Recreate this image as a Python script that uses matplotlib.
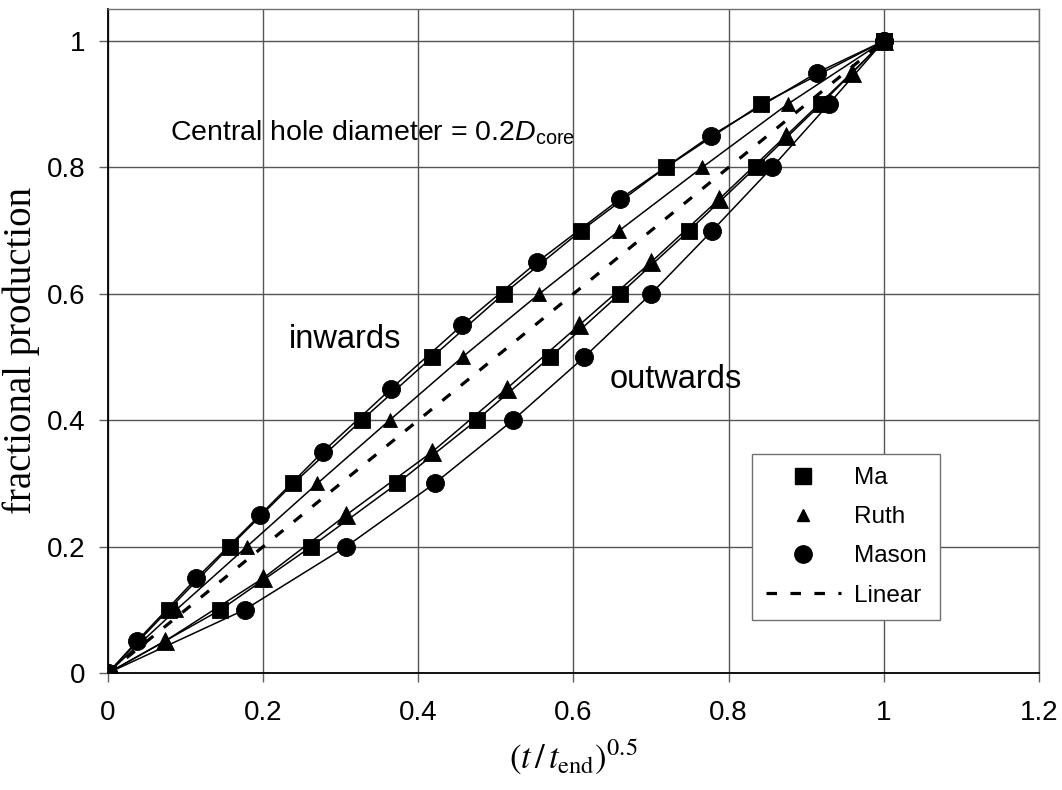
"""Fractional production vs square-root time for inward and outward cores."""

from __future__ import annotations

import matplotlib

matplotlib.use("Agg")

import matplotlib.pyplot as plt
from matplotlib.axes import Axes
from matplotlib.lines import Line2D

plt.rcParams["font.family"] = ["Liberation Sans", "DejaVu Sans"]
plt.rcParams["mathtext.fontset"] = "custom"
plt.rcParams["mathtext.rm"] = "Liberation Sans"
plt.rcParams["mathtext.it"] = "Liberation Sans:italic"

# fractional production levels at which markers sit
Y_TENTHS = [0.0, 0.1, 0.2, 0.3, 0.4, 0.5, 0.6, 0.7, 0.8, 0.9, 1.0]
Y_HALVES = [0.0, 0.05, 0.15, 0.25, 0.35, 0.45, 0.55, 0.65, 0.75, 0.85, 0.95, 1.0]

# (t/t_end)^0.5
MA_IN = [0.0, 0.078, 0.157, 0.239, 0.327, 0.418, 0.510, 0.610, 0.719, 0.842, 1.0]
MA_OUT = [0.0, 0.145, 0.262, 0.373, 0.475, 0.570, 0.660, 0.749, 0.835, 0.919, 1.0]
RUTH_IN = [0.0, 0.088, 0.179, 0.270, 0.363, 0.457, 0.556, 0.659, 0.766, 0.876, 1.0]
RUTH_OUT = [0.0, 0.073, 0.200, 0.307, 0.418, 0.514, 0.607, 0.700, 0.788, 0.874, 0.959, 1.0]
MASON_IN = [0.0, 0.037, 0.114, 0.196, 0.277, 0.365, 0.456, 0.553, 0.660, 0.777, 0.914, 1.0]
MASON_OUT = [0.0, 0.176, 0.307, 0.421, 0.522, 0.614, 0.700, 0.779, 0.856, 0.929, 1.0]
LINEAR_X = [0.0, 1.0]
LINEAR_Y = [0.0, 1.0]

X_TICKS = [0.0, 0.2, 0.4, 0.6, 0.8, 1.0, 1.2]
X_TICK_LABELS = ["0", "0.2", "0.4", "0.6", "0.8", "1", "1.2"]
Y_TICKS = [0.0, 0.2, 0.4, 0.6, 0.8, 1.0]
Y_TICK_LABELS = ["0", "0.2", "0.4", "0.6", "0.8", "1"]

LEGEND_LABELS = ["Ma", "Ruth", "Mason", "Linear"]

_LINE = {"color": "black", "linewidth": 1.1, "markeredgecolor": "black",
         "markerfacecolor": "black", "markeredgewidth": 0.6}
_SQUARE = {"marker": "s", "markersize": 11.5}
_CIRCLE = {"marker": "o", "markersize": 13}
_TRI_BIG = {"marker": "^", "markersize": 13}
_TRI_SMALL = {"marker": "^", "markersize": 9.5}


def _draw_curves(ax: Axes) -> None:
    ax.plot(LINEAR_X, LINEAR_Y, color="black", linewidth=2.3,
            dashes=(3.3, 4.2), zorder=2)
    ax.plot(MASON_IN, Y_HALVES, **_LINE, **_CIRCLE, zorder=3)
    ax.plot(MASON_OUT, Y_TENTHS, **_LINE, **_CIRCLE, zorder=3)
    ax.plot(RUTH_IN, Y_TENTHS, **_LINE, **_TRI_SMALL, zorder=4)
    ax.plot(RUTH_OUT, Y_HALVES, **_LINE, **_TRI_BIG, zorder=4)
    ax.plot(MA_IN, Y_TENTHS, **_LINE, **_SQUARE, zorder=5)
    ax.plot(MA_OUT, Y_TENTHS, **_LINE, **_SQUARE, zorder=5)


def _draw_legend(ax: Axes) -> None:
    marker_style = {"linestyle": "none", "color": "black",
                    "markerfacecolor": "black", "markeredgecolor": "black"}
    handles = [
        Line2D([], [], marker="s", markersize=11.5, **marker_style),
        Line2D([], [], marker="^", markersize=9, **marker_style),
        Line2D([], [], marker="o", markersize=12.5, **marker_style),
        Line2D([], [], color="black", linewidth=2.3, dashes=(3.3, 4.2)),
    ]
    legend = ax.legend(
        handles,
        LEGEND_LABELS,
        loc="lower left",
        bbox_to_anchor=(0.692, 0.080),
        borderaxespad=0.0,
        fontsize=17.5,
        frameon=True,
        fancybox=False,
        borderpad=0.55,
        handlelength=3.1,
        handletextpad=0.55,
        labelspacing=0.7,
    )
    frame = legend.get_frame()
    frame.set_edgecolor("#707070")
    frame.set_linewidth(1.0)
    frame.set_alpha(1.0)


def _style_axes(ax: Axes) -> None:
    ax.set_xlim(0, 1.2)
    ax.set_ylim(0, 1.0506)
    ax.set_xticks(X_TICKS, X_TICK_LABELS)
    ax.set_yticks(Y_TICKS, Y_TICK_LABELS)
    ax.tick_params(axis="both", direction="out", length=6.5, width=1.0,
                   color="#606060", labelsize=20)
    ax.tick_params(axis="x", pad=13)
    ax.tick_params(axis="y", pad=10)
    ax.grid(True, color="#555555", linewidth=1.0)
    ax.set_axisbelow(True)

    for side in ("left", "bottom"):
        ax.spines[side].set_color("black")
        ax.spines[side].set_linewidth(1.3)
    for side in ("top", "right"):
        ax.spines[side].set_color("#707070")
        ax.spines[side].set_linewidth(1.0)

    ax.set_xlabel(r"$(t\,/\,t_{\mathrm{end}})^{0.5}$", fontsize=25,
                  math_fontfamily="stix")
    ax.xaxis.set_label_coords(0.5, -0.096)
    ax.xaxis.label.set_verticalalignment("top")
    ax.set_ylabel("fractional production", fontsize=28,
                  family="Liberation Serif")
    ax.yaxis.set_label_coords(-0.073, 0.486)


def _draw_notes(ax: Axes) -> None:
    ax.text(0.08, 0.843, r"Central hole diameter = 0.2$D_{\mathrm{core}}$",
            fontsize=20.5, va="baseline", ha="left")
    ax.text(0.233, 0.514, "inwards", fontsize=23.5, va="baseline", ha="left")
    ax.text(0.647, 0.451, "outwards", fontsize=23.5, va="baseline", ha="left")


def main() -> None:
    fig = plt.figure(figsize=(10.62, 7.9), dpi=100)
    ax = fig.add_axes((0.1017, 0.1481, 0.8766, 0.8405))
    _draw_curves(ax)
    _style_axes(ax)
    _draw_notes(ax)
    _draw_legend(ax)
    fig.savefig("out.png", dpi=100)
    plt.close(fig)


if __name__ == "__main__":
    main()
